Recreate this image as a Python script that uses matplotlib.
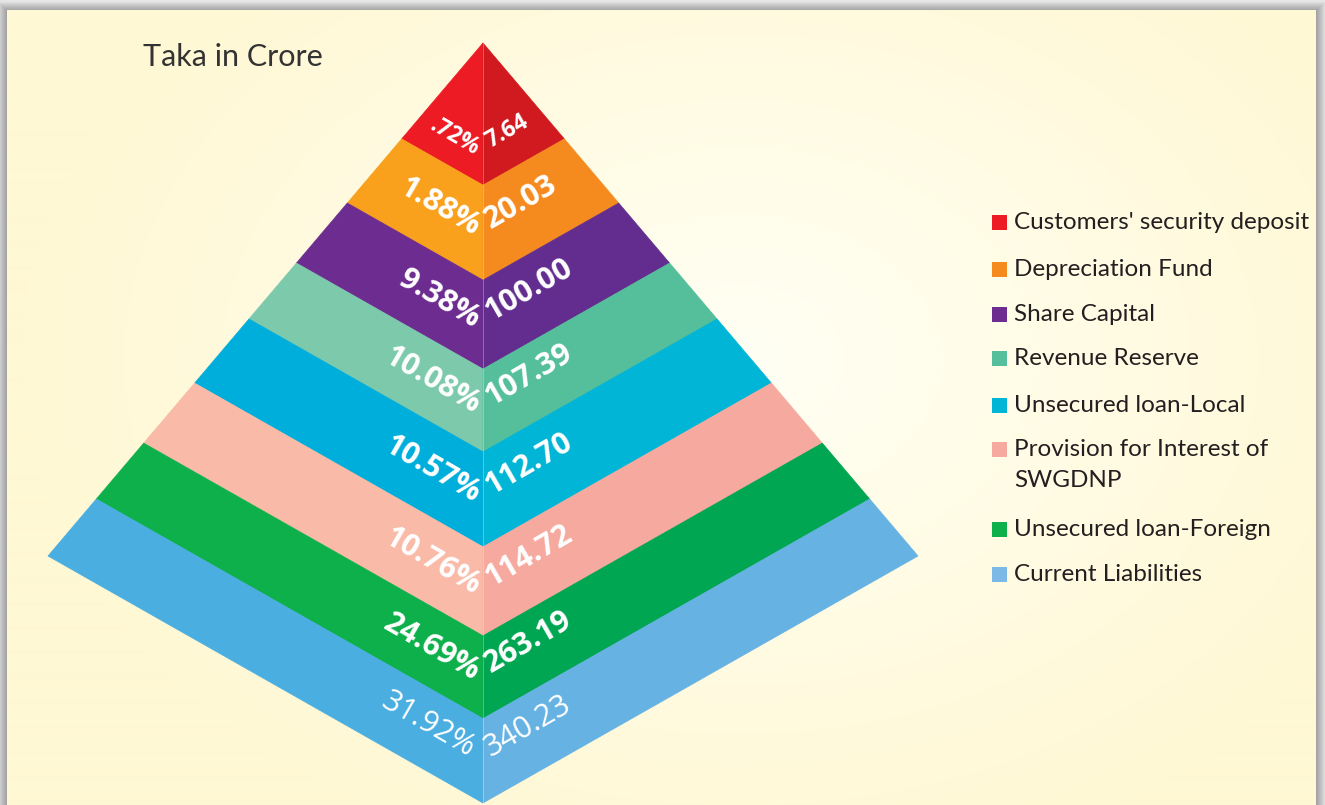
# Capital structure pyramid (Taka in Crore)

import numpy as np
import matplotlib.pyplot as plt
from matplotlib.patches import Polygon, Rectangle
from matplotlib.colors import LinearSegmentedColormap

# Data, top of the pyramid first
items = ["Customers' security deposit", "Depreciation Fund", "Share Capital",
         "Revenue Reserve", "Unsecured loan-Local",
         "Provision for Interest of\nSWGDNP", "Unsecured loan-Foreign",
         "Current Liabilities"]
amounts = [7.64, 20.03, 100.00, 107.39, 112.70, 114.72, 263.19, 340.23]
percent_labels = [".72%", "1.88%", "9.38%", "10.08%", "10.57%", "10.76%",
                  "24.69%", "31.92%"]

# Face colours (left face lighter, right face darker) and legend swatches
left_colors = ["#ed1c24", "#f9a01d", "#6d2c8f", "#7cc9ac", "#00aedb",
               "#f9baa8", "#0eb04b", "#4aaee0"]
right_colors = ["#d01a20", "#f58a1f", "#622d8f", "#55be9a", "#00b5d6",
                "#f6a99f", "#00a651", "#66b2e2"]
legend_colors = ["#ed1c24", "#f58a1f", "#6d2c8f", "#55be9a", "#00b5d6",
                 "#f6a99f", "#0eb04b", "#7db9e6"]

# Pyramid layout (pixels), band edges as fraction of the slant edge
W, H = 1325, 805
apex = np.array([483.0, 43.0])
base_left = np.array([48.0, 556.0])
base_right = np.array([918.0, 556.0])
base_front = np.array([483.0, 803.0])
levels = [0.0, 0.187, 0.312, 0.429, 0.538, 0.663, 0.780, 0.889, 1.0]

fig = plt.figure(figsize=(13.25, 8.05), dpi=100)
fig.patch.set_facecolor("#e6e6e6")
ax = fig.add_axes([0, 0, 1, 1])
ax.set_xlim(0, W)
ax.set_ylim(H, 0)
ax.axis("off")

# Drop shadow around the panel
for i in range(10):
    ax.add_patch(Rectangle((7 - i, 11 - i), 1309 + 2 * i, 900,
                           facecolor="black", alpha=0.035, edgecolor="none",
                           zorder=0))

# Cream panel with a soft radial glow
yy, xx = np.mgrid[11:H, 7:1316]
r = np.clip(np.hypot((xx - 740) / 720.0, (yy - 360) / 520.0), 0, 1)
cream = LinearSegmentedColormap.from_list("cream", ["#fffff4", "#fff8d4"])
ax.imshow(r, extent=(7, 1316, H, 11), cmap=cream, aspect="auto",
          interpolation="bilinear", zorder=1)


def point(corner, t):
    return apex + t * (corner - apex)


# Bands
n = len(amounts)
for i in range(n):
    t0, t1 = levels[i], levels[i + 1]
    left_face = [point(base_left, t0), point(base_front, t0),
                 point(base_front, t1), point(base_left, t1)]
    right_face = [point(base_front, t0), point(base_right, t0),
                  point(base_right, t1), point(base_front, t1)]
    ax.add_patch(Polygon(left_face, closed=True, facecolor=left_colors[i],
                         edgecolor=left_colors[i], lw=0.5, zorder=2))
    ax.add_patch(Polygon(right_face, closed=True, facecolor=right_colors[i],
                         edgecolor=right_colors[i], lw=0.5, zorder=2))

    # labels along the faces
    y0 = point(base_front, t0)[1]
    y1 = point(base_front, t1)[1]
    frac = 0.78 if i == 0 else 0.5
    mid = y0 + frac * (y1 - y0)
    size = 16.5 if i == 0 else 22
    last = i == n - 1
    weight = "normal" if last else "bold"
    dy = 10 if last else 3
    ax.text(478 - (5 if last else 0), mid - dy, percent_labels[i],
            rotation=-30, rotation_mode="anchor", ha="right", va="center",
            color="white", fontsize=size, fontweight=weight,
            family="Open Sans", zorder=3)
    ax.text(487, mid - 11, f"{amounts[i]:.2f}", rotation=30,
            rotation_mode="anchor", ha="left", va="center", color="white",
            fontsize=size, fontweight=weight, family="Open Sans", zorder=3)

# Thin ridge line down the front edge
ax.plot([apex[0], base_front[0]], [apex[1], base_front[1]],
        color="white", lw=0.6, alpha=0.35, zorder=2.5)

# Unit caption
ax.text(143, 66, "Taka in Crore", fontsize=22, family="Lato",
        color="#333333", ha="left", va="baseline", zorder=3)

# Legend
legend_y = [222, 269, 314, 358, 405, 449, 529, 574]
for name, col, y in zip(items, legend_colors, legend_y):
    ax.add_patch(Rectangle((992, y - 7), 15, 15, facecolor=col,
                           edgecolor="none", zorder=3))
    ty = y + 16 if "\n" in name else y
    ax.text(1014, ty, name, fontsize=17.5, family="Lato", color="#231f20",
            ha="left", va="center", linespacing=1.6, zorder=3)

fig.savefig("out.png", dpi=100, facecolor=fig.get_facecolor())
